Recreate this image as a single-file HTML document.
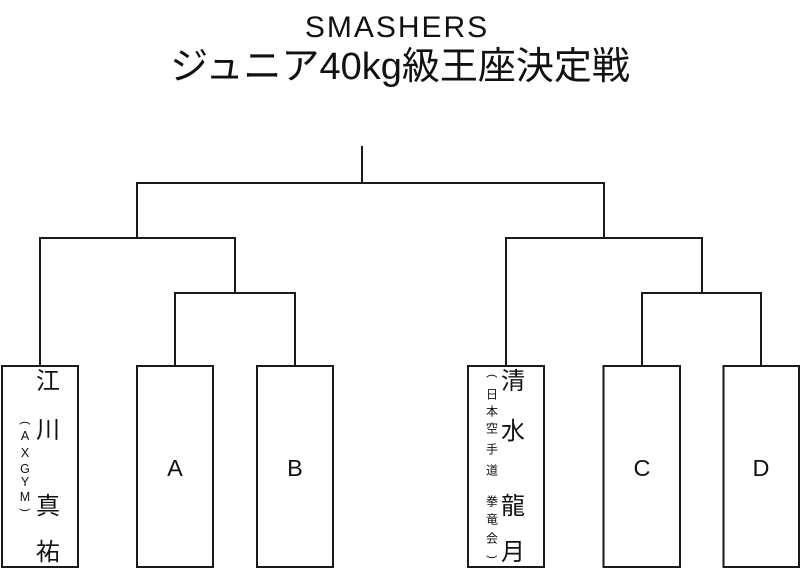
<!DOCTYPE html>
<html>
<head>
<meta charset="utf-8">
<style>
  html, body { margin: 0; padding: 0; background: #ffffff; }
  body { width: 800px; height: 577px; overflow: hidden; }
  svg { display: block; }
  .t { font-family: "Liberation Sans", "Noto Sans CJK JP", sans-serif; fill: #111; }
</style>
</head>
<body>
<svg width="800" height="577" viewBox="0 0 800 577" xmlns="http://www.w3.org/2000/svg">
  <rect width="800" height="577" fill="#ffffff"/>

  <!-- Title -->
  <text class="t" x="397" y="37" font-size="30" text-anchor="middle" letter-spacing="2">SMASHERS</text>
  <text class="t" x="400" y="79" font-size="38" text-anchor="middle">ジュニア40kg級王座決定戦</text>

  <!-- Bracket lines -->
  <g stroke="#1a1a1a" stroke-width="2" fill="none" stroke-linecap="square">
    <path d="M362,147 V183"/>
    <path d="M137,183 H604"/>
    <path d="M137,183 V238"/>
    <path d="M40,238 H235"/>
    <path d="M40,238 V366"/>
    <path d="M235,238 V293"/>
    <path d="M175,293 H295"/>
    <path d="M175,293 V366"/>
    <path d="M295,293 V366"/>
    <path d="M604,183 V238"/>
    <path d="M506,238 H702"/>
    <path d="M506,238 V366"/>
    <path d="M702,238 V293"/>
    <path d="M642,293 H761"/>
    <path d="M642,293 V366"/>
    <path d="M761,293 V366"/>
  </g>

  <!-- Boxes -->
  <g stroke="#1a1a1a" stroke-width="2" fill="none">
    <rect x="2" y="366" width="76" height="201"/>
    <rect x="137" y="366" width="76" height="201"/>
    <rect x="257" y="366" width="76" height="201"/>
    <rect x="468" y="366" width="76" height="201"/>
    <rect x="603.5" y="366" width="76.5" height="201"/>
    <rect x="723.5" y="366" width="75.5" height="201"/>
  </g>

  <!-- Box 1: 江川真祐 (AXGYM) -->
  <g class="t" font-size="24" text-anchor="middle">
    <text x="48" y="389">江</text>
    <text x="48" y="438">川</text>
    <text x="48" y="514">真</text>
    <text x="48" y="560">祐</text>
  </g>
  <g class="t" font-size="12.5" text-anchor="middle">
    <text x="25" y="440">A</text>
    <text x="25" y="457">X</text>
    <text x="25" y="473">G</text>
    <text x="25" y="486">Y</text>
    <text x="25" y="501">M</text>
  </g>
  <text class="t" font-size="11" text-anchor="middle" transform="translate(25,423) rotate(90)" dominant-baseline="central">(</text>
  <text class="t" font-size="11" text-anchor="middle" transform="translate(25,510) rotate(90)" dominant-baseline="central">)</text>

  <!-- Box A, B -->
  <text class="t" x="175" y="476" font-size="23.5" text-anchor="middle">A</text>
  <text class="t" x="295" y="476" font-size="23.5" text-anchor="middle">B</text>

  <!-- Box 4: 清水龍月 (日本空手道 拳竜会) -->
  <g class="t" font-size="24" text-anchor="middle">
    <text x="513" y="389">清</text>
    <text x="513" y="439">水</text>
    <text x="513" y="514">龍</text>
    <text x="513" y="560">月</text>
  </g>
  <g class="t" font-size="12" text-anchor="middle">
    <text x="492" y="398.5">日</text>
    <text x="492" y="415.5">本</text>
    <text x="492" y="432.5">空</text>
    <text x="492" y="453.5">手</text>
    <text x="492" y="474.5">道</text>
    <text x="492" y="505.5">拳</text>
    <text x="492" y="523.5">竜</text>
    <text x="492" y="542.5">会</text>
  </g>
  <text class="t" font-size="11" text-anchor="middle" transform="translate(492,376) rotate(90)" dominant-baseline="central">(</text>
  <text class="t" font-size="11" text-anchor="middle" transform="translate(492,557) rotate(90)" dominant-baseline="central">)</text>

  <!-- Box C, D -->
  <text class="t" x="642" y="476" font-size="23.5" text-anchor="middle">C</text>
  <text class="t" x="761" y="476" font-size="23.5" text-anchor="middle">D</text>
</svg>
</body>
</html>
